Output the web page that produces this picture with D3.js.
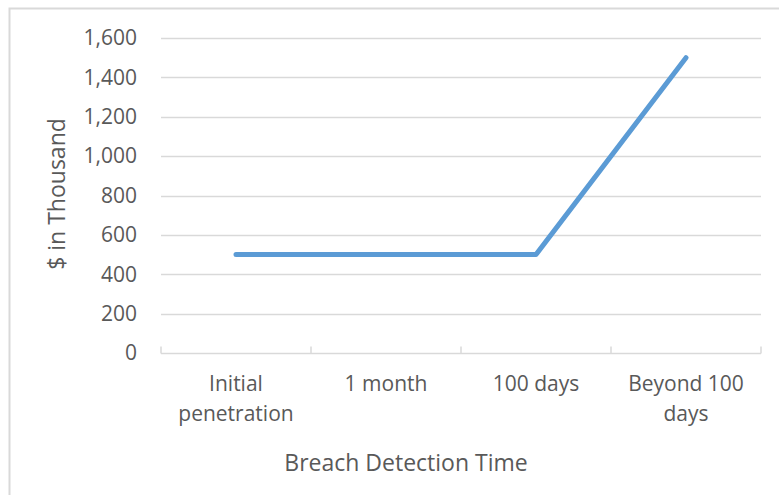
<!DOCTYPE html>
<html>
<head>
<meta charset="utf-8">
<script src="https://cdn.jsdelivr.net/npm/d3@7"></script>
<style>
  body { margin: 0; background: #fff; }
  svg text { font-family: "Open Sans", sans-serif; fill: #595959; }
</style>
</head>
<body>
<div id="chart"></div>
<script>
// Data
const categories = [["Initial", "penetration"], ["1 month"], ["100 days"], ["Beyond 100", "days"]];
const values = [500, 500, 500, 1500];
const yTicks = [0, 200, 400, 600, 800, 1000, 1200, 1400, 1600];

const totalWidth = 779;
const totalHeight = 495;
// plot area inside the svg
const plotLeft = 161, plotRight = 761, plotTop = 38, plotBottom = 353;

const svg = d3.select("#chart")
  .append("svg")
  .attr("width", totalWidth)
  .attr("height", totalHeight);

// chart border (left and top edge show in the crop)
svg.append("path")
  .attr("d", "M9.5,495 V8.5 H779")
  .attr("fill", "none")
  .attr("stroke", "#d9d9d9")
  .attr("stroke-width", 2);

const keys = categories.map(c => c.join(" "));

const x = d3.scaleBand()
  .domain(keys)
  .range([plotLeft, plotRight]);

const y = d3.scaleLinear()
  .domain([0, 1600])
  .range([plotBottom, plotTop]);

// gridlines
svg.append("g")
  .selectAll("line")
  .data(yTicks.filter(d => d > 0))
  .enter()
  .append("line")
  .attr("x1", plotLeft)
  .attr("x2", plotRight)
  .attr("y1", d => Math.round(y(d)) + 0.5)
  .attr("y2", d => Math.round(y(d)) + 0.5)
  .attr("stroke", "#d9d9d9")
  .attr("stroke-width", 1.5);

// y labels
svg.append("g")
  .selectAll("text")
  .data(yTicks)
  .enter()
  .append("text")
  .attr("x", 137)
  .attr("y", d => y(d))
  .attr("dy", "0.35em")
  .attr("text-anchor", "end")
  .style("font-size", "21px")
  .text(d => d3.format(",")(d));

// x axis with ticks pointing up
const xAxis = svg.append("g")
  .attr("transform", "translate(0," + (Math.round(plotBottom) + 0.5) + ")");
xAxis.append("line")
  .attr("x1", plotLeft).attr("x2", plotRight)
  .attr("stroke", "#d9d9d9").attr("stroke-width", 1.5);
const edges = keys.map(k => x(k)).concat([plotRight]);
xAxis.selectAll(".tk")
  .data(edges)
  .enter()
  .append("line")
  .attr("x1", d => d).attr("x2", d => d)
  .attr("y1", 0).attr("y2", -7)
  .attr("stroke", "#d9d9d9").attr("stroke-width", 1.5);

// category labels
const catLabels = svg.append("g")
  .selectAll("text")
  .data(categories)
  .enter()
  .append("text")
  .attr("text-anchor", "middle")
  .attr("y", 391)
  .attr("dy", "0.35em")
  .style("font-size", "21px");
catLabels.selectAll("tspan")
  .data((d, i) => d.map(t => ({ t, k: keys[i] })))
  .enter()
  .append("tspan")
  .attr("x", d => x(d.k) + x.bandwidth() / 2)
  .attr("dy", (d, i) => i ? 29.5 : 0)
  .text(d => d.t);

// axis titles
svg.append("text")
  .attr("x", 406)
  .attr("y", 463)
  .attr("dy", "0.35em")
  .attr("text-anchor", "middle")
  .style("font-size", "23px")
  .text("Breach Detection Time");

svg.append("text")
  .attr("transform", "translate(57,194) rotate(-90)")
  .attr("dy", "0.35em")
  .attr("text-anchor", "middle")
  .style("font-size", "23px")
  .text("$ in Thousand");

// the line
const line = d3.line()
  .x((d, i) => x(keys[i]) + x.bandwidth() / 2)
  .y(d => y(d));

svg.append("path")
  .datum(values)
  .attr("d", line)
  .attr("fill", "none")
  .attr("stroke", "#5b9bd5")
  .attr("stroke-width", 5)
  .attr("stroke-linecap", "round")
  .attr("stroke-linejoin", "round");
</script>
</body>
</html>
